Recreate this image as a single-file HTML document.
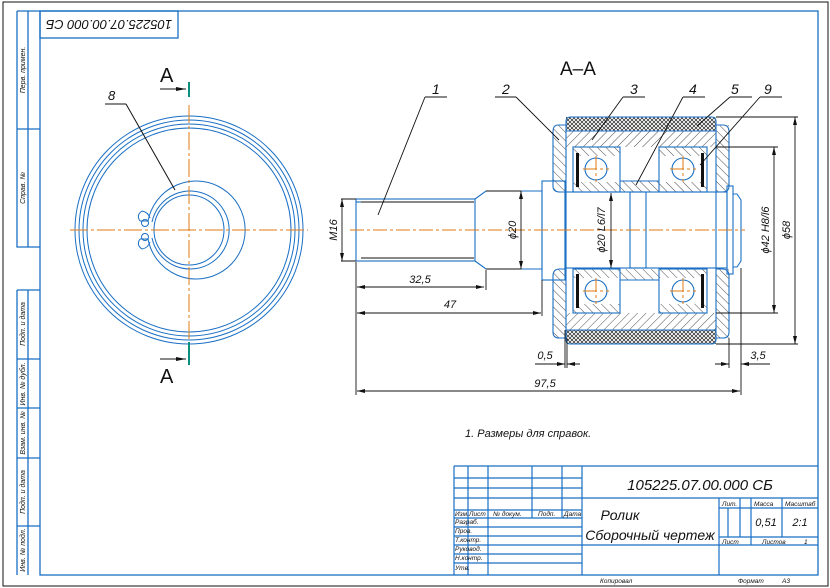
<!DOCTYPE html>
<html><head><meta charset="utf-8"><style>
html,body{margin:0;padding:0;background:#fff}
svg{display:block}
text{font-family:"Liberation Sans","DejaVu Sans",sans-serif;font-style:italic;fill:#111}
</style></head><body>
<svg width="830" height="588" viewBox="0 0 830 588" xmlns="http://www.w3.org/2000/svg">
<defs>
<pattern id="h1" patternUnits="userSpaceOnUse" width="6" height="6" patternTransform="rotate(45)"><line x1="0" y1="0" x2="0" y2="6" stroke="#222" stroke-width="0.8"/></pattern>
<pattern id="h2" patternUnits="userSpaceOnUse" width="6" height="6" patternTransform="rotate(-45)"><line x1="0" y1="0" x2="0" y2="6" stroke="#222" stroke-width="0.8"/></pattern>
<pattern id="hx" patternUnits="userSpaceOnUse" width="4" height="4"><path d="M0 0L4 4M4 0L0 4" stroke="#222" stroke-width="0.7"/></pattern>
</defs>
<rect x="0" y="0" width="830" height="588" fill="#fff"/>
<rect x="3" y="2" width="825" height="584" fill="none" stroke="#111" stroke-width="1"/>
<g stroke="#1a6fc4" fill="none" stroke-width="1.3">
<rect x="40" y="11" width="778" height="564"/>
<rect x="40" y="11" width="138" height="27"/>
<path d="M17 11H40M17 11V247H40M28 11V247M17 129H40"/>
<path d="M17 290H40M17 290V575M28 290V575M17 359H40M17 408H40M17 458H40M17 526H40"/>
</g>
<text x="109" y="30" font-size="13" text-anchor="middle" transform="rotate(180 109 25)">105225.07.00.000 СБ</text>
<g font-size="7">
<text transform="translate(25 70) rotate(-90)" text-anchor="middle">Перв. примен.</text>
<text transform="translate(25 188) rotate(-90)" text-anchor="middle">Справ. №</text>
<text transform="translate(25 324) rotate(-90)" text-anchor="middle">Подп. и дата</text>
<text transform="translate(25 384) rotate(-90)" text-anchor="middle">Инв. № дубл.</text>
<text transform="translate(25 433) rotate(-90)" text-anchor="middle">Взам. инв. №</text>
<text transform="translate(25 492) rotate(-90)" text-anchor="middle">Подп. и дата</text>
<text transform="translate(25 550) rotate(-90)" text-anchor="middle">Инв. № подл.</text>
</g>

<!-- left view -->
<g stroke="#1a6fc4" fill="none" stroke-width="1">
<circle cx="189" cy="230" r="114"/><circle cx="189" cy="230" r="110"/>
<circle cx="189" cy="230" r="106"/><circle cx="189" cy="230" r="102"/>
<path d="M148 221 A49 49 0 1 1 148 239 M148 221 L140 221 M148 239 L140 239"/>
<path d="M152 222 A39 39 0 1 1 152 238"/>
<circle cx="189" cy="230" r="35"/>
<path d="M140 221 Q136 215 142 211 Q148 212 150 218"/>
<path d="M140 239 Q136 245 142 249 Q148 248 150 242"/>
<circle cx="145" cy="223" r="3.5"/><circle cx="145" cy="237" r="3.5"/>
</g>
<g stroke="#e07a10" stroke-width="1" stroke-dasharray="18 3 3 3">
<line x1="70" y1="230" x2="308" y2="230"/><line x1="189" y1="105" x2="189" y2="340"/>
</g>
<g stroke="#0a8f7f" stroke-width="2"><line x1="189" y1="82" x2="189" y2="97"/><line x1="189" y1="342" x2="189" y2="365"/></g>
<g stroke="#111" stroke-width="1"><line x1="160" y1="89" x2="186" y2="89"/><line x1="160" y1="359" x2="186" y2="359"/>
<line x1="105" y1="104" x2="126" y2="104"/><line x1="126" y1="104" x2="175" y2="190"/></g>
<path d="M186 89l-10-2v4z M186 359l-10-2v4z" fill="#111"/>
<text x="160" y="82" font-size="20" style="font-style:normal">A</text>
<text x="160" y="383" font-size="20" style="font-style:normal">A</text>
<text x="108" y="100" font-size="13">8</text>

<!-- section -->
<text x="560" y="75" font-size="19" style="font-style:normal">A–A</text>
<!-- hatched regions -->
<rect x="566" y="117" width="150" height="14" fill="url(#hx)"/>
<rect x="566" y="330" width="150" height="14" fill="url(#hx)"/>
<rect x="566" y="131" width="150" height="16" fill="url(#h1)"/>
<rect x="566" y="313" width="150" height="17" fill="url(#h1)"/>
<rect x="553" y="125" width="13" height="67" fill="url(#h2)"/>
<rect x="553" y="269" width="13" height="69" fill="url(#h2)"/>
<rect x="716" y="125" width="13" height="67" fill="url(#h2)"/>
<rect x="716" y="269" width="13" height="69" fill="url(#h2)"/>
<rect x="573" y="147" width="47" height="9" fill="url(#h2)"/><rect x="573" y="182" width="47" height="10" fill="url(#h2)"/>
<rect x="659" y="147" width="48" height="9" fill="url(#h2)"/><rect x="659" y="182" width="48" height="10" fill="url(#h2)"/>
<rect x="573" y="269" width="47" height="9" fill="url(#h2)"/><rect x="573" y="304" width="47" height="9" fill="url(#h2)"/>
<rect x="659" y="269" width="48" height="9" fill="url(#h2)"/><rect x="659" y="304" width="48" height="9" fill="url(#h2)"/>
<rect x="620" y="181" width="39" height="11" fill="url(#h2)"/>
<rect x="620" y="269" width="39" height="11" fill="url(#h2)"/>
<rect x="620" y="156" width="39" height="25" fill="#fff"/><rect x="620" y="280" width="39" height="24" fill="#fff"/>
<g stroke="#1a6fc4" fill="none" stroke-width="1.1">
<rect x="566" y="117" width="150" height="227" rx="4"/>
<line x1="566" y1="131" x2="716" y2="131"/><line x1="566" y1="330" x2="716" y2="330"/>
<path d="M566 125H558Q553 125 553 132V186Q553 192 560 192H566"/>
<path d="M566 269H560Q553 269 553 276V332Q553 338 559 338H566"/>
<path d="M716 125H723Q729 125 729 132V186Q729 192 722 192H716"/>
<path d="M716 269H722Q729 269 729 276V332Q729 338 723 338H716"/>
<rect x="573" y="147" width="47" height="45"/><rect x="659" y="147" width="48" height="45"/>
<rect x="573" y="269" width="47" height="44"/><rect x="659" y="269" width="48" height="44"/>
<line x1="620" y1="181" x2="659" y2="181"/><line x1="620" y1="280" x2="659" y2="280"/>
<circle cx="596" cy="169" r="11"/><circle cx="683" cy="169" r="11"/>
<circle cx="596" cy="291" r="11"/><circle cx="683" cy="291" r="11"/>
<rect x="356" y="199" width="119" height="62"/>
<path d="M475 199L486 191H542V269H486L475 261"/>
<rect x="542" y="181" width="23" height="99"/>
<rect x="565" y="192" width="162" height="76"/>
<rect x="630" y="192" width="16" height="76"/>
<rect x="727" y="186" width="6" height="88"/>
<path d="M733 194H737L741 200V261L737 267H733"/>
<line x1="356" y1="202" x2="361" y2="202"/>
</g>
<g stroke="#111" stroke-width="1"><line x1="361" y1="202" x2="474" y2="202"/><line x1="361" y1="258" x2="474" y2="258"/></g>
<g fill="#111"><rect x="576" y="153" width="3" height="34"/><rect x="701" y="153" width="3" height="34"/><rect x="576" y="274" width="3" height="34"/><rect x="701" y="274" width="3" height="34"/></g>
<g stroke="#e07a10" stroke-width="1" stroke-dasharray="14 3 3 3">
<line x1="350" y1="230" x2="745" y2="230"/>
<line x1="583" y1="169" x2="609" y2="169"/><line x1="596" y1="156" x2="596" y2="182"/>
<line x1="670" y1="169" x2="696" y2="169"/><line x1="683" y1="156" x2="683" y2="182"/>
<line x1="583" y1="291" x2="609" y2="291"/><line x1="596" y1="278" x2="596" y2="304"/>
<line x1="670" y1="291" x2="696" y2="291"/><line x1="683" y1="278" x2="683" y2="304"/>
</g>
<!-- dimensions -->
<g stroke="#111" stroke-width="0.9" fill="none">
<path d="M356 262V395M341 199H356M341 261H356M342 199V261"/>
<path d="M486 270V290M357 287H484"/>
<path d="M542 280V316M357 313H541"/>
<path d="M741 268V395M357 391H740"/>
<path d="M521 191V269M486 191H521M486 269H521"/>
<path d="M611 193V268"/>
<path d="M716 147H778M716 313H778M774 147V313"/>
<path d="M716 117H798M716 344H798M795 117V344"/>
<path d="M565 330V368M567 338V368M535 364H565M567 364H580"/>
<path d="M729 338V368M741 364H770M715 364H729"/>
<path d="M425 97H447M425 97L378 215"/>
<path d="M495 97H516M516 97L559 140"/>
<path d="M623 97H645M623 97L592 140"/>
<path d="M683 97H705M683 97L636 185"/>
<path d="M730 97H752M730 97L697 126"/>
<path d="M760 97H782M760 97L700 165"/>
</g>
<g fill="#111">
<path d="M342 199l-2 8h4zM342 261l-2-8h4zM357 287l8-2v4zM484 287l-8-2v4zM357 313l8-2v4zM541 313l-8-2v4zM357 391l8-2v4zM740 391l-8-2v4zM521 191l-2 8h4zM521 269l-2-8h4zM611 193l-2 8h4zM611 268l-2-8h4zM774 147l-2 8h4zM774 313l-2-8h4zM795 117l-2 8h4zM795 344l-2-8h4zM565 364l-8-2v4zM567 364l8-2v4zM729 364l-8-2v4zM741 364l8-2v4z"/>
</g>
<g font-size="11">
<text transform="translate(337 230) rotate(-90)" text-anchor="middle">M16</text>
<text x="420" y="283" text-anchor="middle">32,5</text>
<text x="450" y="308" text-anchor="middle">47</text>
<text x="545" y="387" text-anchor="middle">97,5</text>
<text x="545" y="359" text-anchor="middle">0,5</text>
<text x="758" y="359" text-anchor="middle">3,5</text>
<text transform="translate(516 230) rotate(-90)" text-anchor="middle">ϕ20</text>
<text transform="translate(605 230) rotate(-90)" text-anchor="middle">ϕ20 L6/l7</text>
<text transform="translate(769 230) rotate(-90)" text-anchor="middle">ϕ42 H8/l6</text>
<text transform="translate(790 230) rotate(-90)" text-anchor="middle">ϕ58</text>
</g>
<g font-size="14">
<text x="432" y="94">1</text><text x="502" y="94">2</text><text x="630" y="94">3</text>
<text x="689" y="94">4</text><text x="731" y="94">5</text><text x="764" y="94">9</text>
</g>
<text x="465" y="437" font-size="11">1. Размеры для справок.</text>

<!-- title block -->
<g stroke="#1a6fc4" stroke-width="1.2" fill="none">
<path d="M454 466V575M454 466H818"/>
<path d="M468 466V575M488 466V575M532 466V518M562 466V518M582 466V575"/>
<path d="M454 478H582M454 488H582M454 498H818M454 510H582M454 518H582M454 527H582M454 536H582M454 545H818M454 554H582M454 563H582"/>
<path d="M719 498V575M719 508H818M719 537H818M728 508V537M740 498V537M751 498V537M782 498V537M751 537V545"/>
</g>
<text x="700" y="490" font-size="15" text-anchor="middle">105225.07.00.000 СБ</text>
<text x="620" y="520" font-size="14" text-anchor="middle">Ролик</text>
<text x="650" y="540" font-size="14" text-anchor="middle">Сборочный чертеж</text>
<g font-size="6.5">
<text x="455" y="516">Изм.</text><text x="469" y="516">Лист</text><text x="493" y="516">№ докум.</text><text x="538" y="516">Подп.</text><text x="564" y="516">Дата</text>
<text x="455" y="524">Разраб.</text><text x="455" y="533">Пров.</text><text x="455" y="542">Т.контр.</text>
<text x="455" y="551">Руковод.</text><text x="455" y="560">Н.контр.</text><text x="455" y="570">Утв.</text>
<text x="722" y="506">Лит.</text><text x="754" y="506">Масса</text><text x="785" y="506">Масштаб</text>
<text x="722" y="544">Лист</text><text x="762" y="544">Листов</text><text x="804" y="544">1</text>
<text x="600" y="583">Копировал</text><text x="738" y="583">Формат</text><text x="782" y="583">А3</text>
</g>
<text x="766" y="526" font-size="11" text-anchor="middle">0,51</text>
<text x="800" y="526" font-size="11" text-anchor="middle">2:1</text>
</svg>
</body></html>
